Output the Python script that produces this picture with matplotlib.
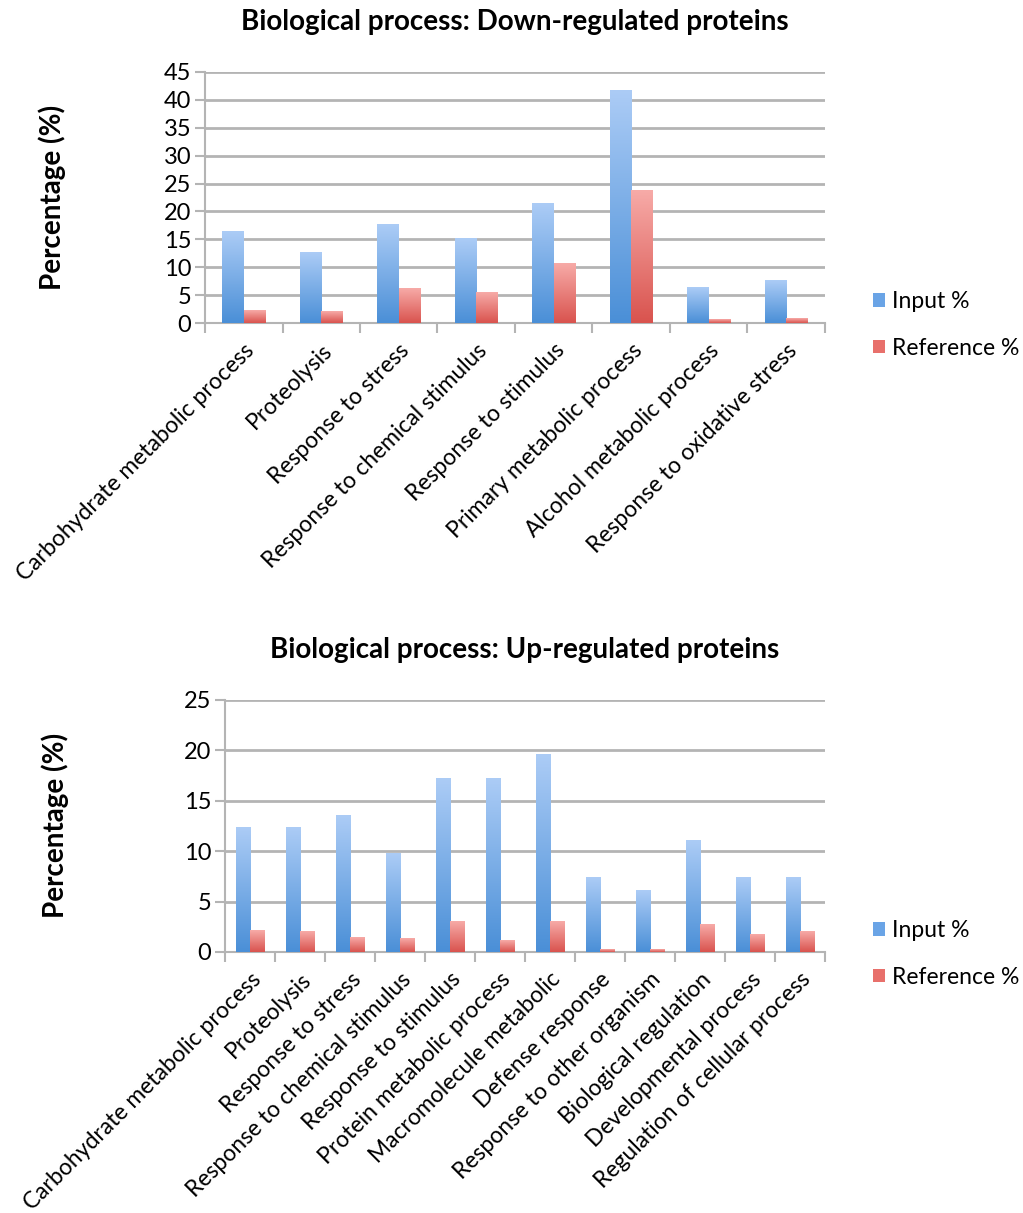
import numpy as np
import matplotlib
matplotlib.use("Agg")
import matplotlib.pyplot as plt
from matplotlib.colors import LinearSegmentedColormap
from matplotlib.patches import Patch

plt.rcParams["font.family"] = ["Lato", "DejaVu Sans"]

# ── GO term percentages ──────────────────────────────────────────────────────
down_terms = [
    "Carbohydrate metabolic process", "Proteolysis", "Response to stress",
    "Response to chemical stimulus", "Response to stimulus",
    "Primary metabolic process", "Alcohol metabolic process",
    "Response to oxidative stress",
]
down_input = [16.4, 12.6, 17.6, 15.1, 21.4, 41.7, 6.3, 7.6]
down_ref = [2.3, 2.0, 6.1, 5.5, 10.7, 23.7, 0.7, 0.8]

up_terms = [
    "Carbohydrate metabolic process", "Proteolysis", "Response to stress",
    "Response to chemical stimulus", "Response to stimulus",
    "Protein metabolic process", "Macromolecule metabolic",
    "Defense response", "Response to other organism",
    "Biological regulation", "Developmental process",
    "Regulation of cellular process",
]
up_input = [12.3, 12.3, 13.5, 9.8, 17.2, 17.2, 19.6, 7.4, 6.1, 11.1, 7.4, 7.4]
up_ref = [2.1, 2.0, 1.4, 1.3, 3.0, 1.1, 3.0, 0.2, 0.2, 2.7, 1.7, 2.0]

BLUE = LinearSegmentedColormap.from_list("blue", ["#4a8fd7", "#acccf6"])
RED = LinearSegmentedColormap.from_list("red", ["#d9534e", "#f7aba8"])
GRID = "#b4b4b4"
GRAD = np.linspace(0, 1, 256).reshape(-1, 1)


def gradient_bars(ax, xs, heights, width, cmap):
    for x, h in zip(xs, heights):
        ax.imshow(GRAD, extent=[x - width / 2, x + width / 2, 0, h],
                  origin="lower", aspect="auto", cmap=cmap, zorder=3,
                  interpolation="bilinear")


def draw_panel(fig, rect, title, terms, inp, ref, ymax, step, width, ylab_x):
    ax = fig.add_axes(rect)
    n = len(terms)
    x = np.arange(n)
    gradient_bars(ax, x - width / 2, inp, width, BLUE)
    gradient_bars(ax, x + width / 2, ref, width, RED)
    ax.set_xlim(-0.5, n - 0.5)
    ax.set_ylim(0, ymax)
    ax.set_yticks(np.arange(0, ymax + 1, step))
    ax.set_xticks(np.arange(n + 1) - 0.5, minor=True)
    ax.set_xticks(x)
    ax.set_xticklabels(terms, rotation=45, ha="right", rotation_mode="anchor",
                       fontsize=16.5)
    ax.tick_params(axis="x", which="major", length=0, pad=12)
    ax.tick_params(axis="x", which="minor", length=7, color=GRID, width=1.5)
    ax.tick_params(axis="y", length=7, color=GRID, width=1.5, labelsize=17,
                   pad=3)
    ax.grid(axis="y", color=GRID, linewidth=2, zorder=0)
    ax.set_axisbelow(True)
    for s in ("top", "right"):
        ax.spines[s].set_visible(False)
    for s in ("left", "bottom"):
        ax.spines[s].set_color(GRID)
        ax.spines[s].set_linewidth(1.5)
    ax.set_title(title, fontsize=20, fontweight="bold", pad=30)
    ax.set_ylabel("Percentage (%)", fontsize=20, fontweight="bold")
    ax.yaxis.set_label_coords(ylab_x, 0.5)
    return ax


fig = plt.figure(figsize=(10.23, 12.13), dpi=100)

ax1 = draw_panel(fig, [0.2004, 0.7337, 0.606, 0.207],
                 "Biological process: Down-regulated proteins",
                 down_terms, down_input, down_ref, 45, 5, 0.28, -0.225)
ax2 = draw_panel(fig, [0.22, 0.2152, 0.5865, 0.2078],
                 "Biological process: Up-regulated proteins",
                 up_terms, up_input, up_ref, 25, 5, 0.29, -0.26)

handles = [Patch(facecolor="#6aa4e6", edgecolor="none", label="Input %"),
           Patch(facecolor="#e8706b", edgecolor="none", label="Reference %")]
for y in (0.732, 0.2135):
    fig.legend(handles=handles, loc="center left", bbox_to_anchor=(0.842, y),
               frameon=False, fontsize=16.5, handlelength=0.55,
               handleheight=0.55, handletextpad=0.3, labelspacing=1.1,
               borderpad=0)

fig.savefig("out.png", dpi=100)
